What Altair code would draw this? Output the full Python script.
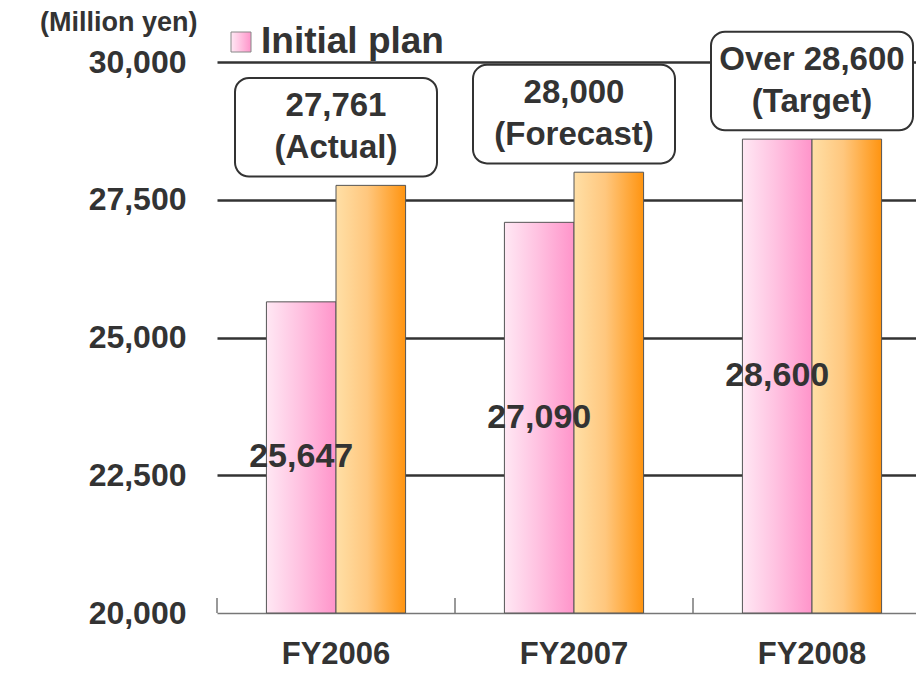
import altair as alt
import pandas as pd

years = ["FY2006", "FY2007", "FY2008"]
series_names = ["Initial plan", "Revised"]
initial_plan = [25647, 27090, 28600]
revised = [27761, 28000, 28600]
box_text = ["27,761\n(Actual)", "28,000\n(Forecast)", "Over 28,600\n(Target)"]
y_ticks = [20000, 22500, 25000, 27500, 30000]

long_df = pd.DataFrame(
    [{"year": y, "series": series_names[0], "value": p} for y, p in zip(years, initial_plan)]
    + [{"year": y, "series": series_names[1], "value": r} for y, r in zip(years, revised)]
)
wide_df = pd.DataFrame({"year": years, "plan": initial_plan, "revised": revised, "box": box_text})
legend_df = pd.DataFrame({"series": [series_names[0]]})

FONT = "Liberation Sans"
TXT = "#333333"
W, H = 699, 551
BAND_RANGE = 714

pink = alt.Gradient(
    gradient="linear", x1=0, x2=1, y1=0, y2=0,
    stops=[alt.GradientStop(offset=0, color="#FFE8F4"),
           alt.GradientStop(offset=0.45, color="#FFC4E2"),
           alt.GradientStop(offset=1, color="#FF94CA")],
)
orange = alt.Gradient(
    gradient="linear", x1=0, x2=1, y1=0, y2=0,
    stops=[alt.GradientStop(offset=0, color="#FFDFA6"),
           alt.GradientStop(offset=0.45, color="#FFC77E"),
           alt.GradientStop(offset=1, color="#FF9410")],
)

x_enc = alt.X(
    "year:N",
    scale=alt.Scale(domain=years, paddingInner=0, paddingOuter=0, range=[0, BAND_RANGE]),
    axis=alt.Axis(
        title=None, labelAngle=0, ticks=False, domainColor="#777777", domainWidth=1.5,
        labelFont=FONT, labelFontSize=31, labelFontWeight="bold", labelColor=TXT,
        labelPadding=41, labelBaseline="middle",
    ),
)
xo_enc = alt.XOffset(
    "series:N", scale=alt.Scale(domain=series_names, paddingInner=0, paddingOuter=0.71)
)
y_scale = alt.Scale(domain=[20000, 30000], zero=False, nice=False)
y_enc = alt.Y(
    "value:Q",
    scale=y_scale,
    axis=alt.Axis(
        values=y_ticks, format=",.0f", ticks=False, domain=False,
        labelFont=FONT, labelFontSize=32, labelFontWeight="bold", labelColor=TXT,
        labelPadding=31,
        grid=True, gridColor="#333333", gridWidth=2.5,
        gridOpacity={"condition": {"test": "datum.value === 20000", "value": 0}, "value": 1},
        title="(Million yen)", titleAngle=0, titleAlign="right", titleBaseline="middle",
        titleX=-20, titleY=-40, titleFont=FONT, titleFontSize=27, titleFontWeight="bold",
        titleColor=TXT,
    ),
)

ticks = alt.Chart(wide_df).mark_rule(color="#777777", strokeWidth=1.5).encode(
    x=alt.X("year:N", bandPosition=0),
    y=alt.value(H),
    y2=alt.value(H - 15),
)

pink_bars = alt.Chart(long_df).transform_filter(
    alt.datum.series == series_names[0]
).mark_bar(fill=pink, stroke="#555555", strokeWidth=1).encode(
    x=x_enc, xOffset=xo_enc, y=y_enc, y2=alt.datum(y_ticks[0])
)
orange_bars = alt.Chart(long_df).transform_filter(
    alt.datum.series == series_names[1]
).mark_bar(fill=orange, stroke="#555555", strokeWidth=1).encode(
    x="year:N", xOffset="series:N", y="value:Q", y2=alt.datum(y_ticks[0])
)

pink_labels = alt.Chart(long_df).transform_filter(
    alt.datum.series == series_names[0]
).transform_calculate(
    mid=f"({y_ticks[0]} + datum.value) / 2"
).mark_text(
    font=FONT, fontSize=34, fontWeight="bold", color=TXT, baseline="middle", align="center"
).encode(
    x="year:N", xOffset="series:N", y="mid:Q", text=alt.Text("value:Q", format=",")
)

boxes = alt.Chart(wide_df).transform_calculate(
    b0="datum.revised + 160", b1="datum.revised + 1950"
).mark_bar(
    width=202, fill="white", stroke="#333333", strokeWidth=2, cornerRadius=14
).encode(
    x="year:N", y="b0:Q", y2="b1:Q"
)

box_labels = alt.Chart(wide_df).transform_calculate(
    mid="datum.revised + 1055"
).mark_text(
    font=FONT, fontSize=33, fontWeight="bold", color=TXT, lineBreak="\n",
    lineHeight=42, baseline="middle", align="center", dy=-21
).encode(
    x="year:N", y="mid:Q", text="box:N"
)

legend_sq = alt.Chart(legend_df).mark_rect(fill=pink, stroke="#888888", strokeWidth=1).encode(
    x=alt.value(14), x2=alt.value(34), y=alt.value(-30), y2=alt.value(-10)
)
legend_txt = alt.Chart(legend_df).mark_text(
    font=FONT, fontSize=37, fontWeight="bold", color=TXT, align="left", baseline="alphabetic"
).encode(
    x=alt.value(44), y=alt.value(-9), text="series:N"
)

chart = alt.layer(
    pink_bars, orange_bars, ticks, pink_labels, boxes, box_labels, legend_sq, legend_txt
).properties(
    width=W, height=H,
    padding={"left": 209, "top": 54, "right": 0, "bottom": 60},
    autosize=alt.AutoSizeParams(type="none"),
).configure_view(stroke=None)

chart.save("out.html", embed_options={"renderer": "svg", "actions": False})
